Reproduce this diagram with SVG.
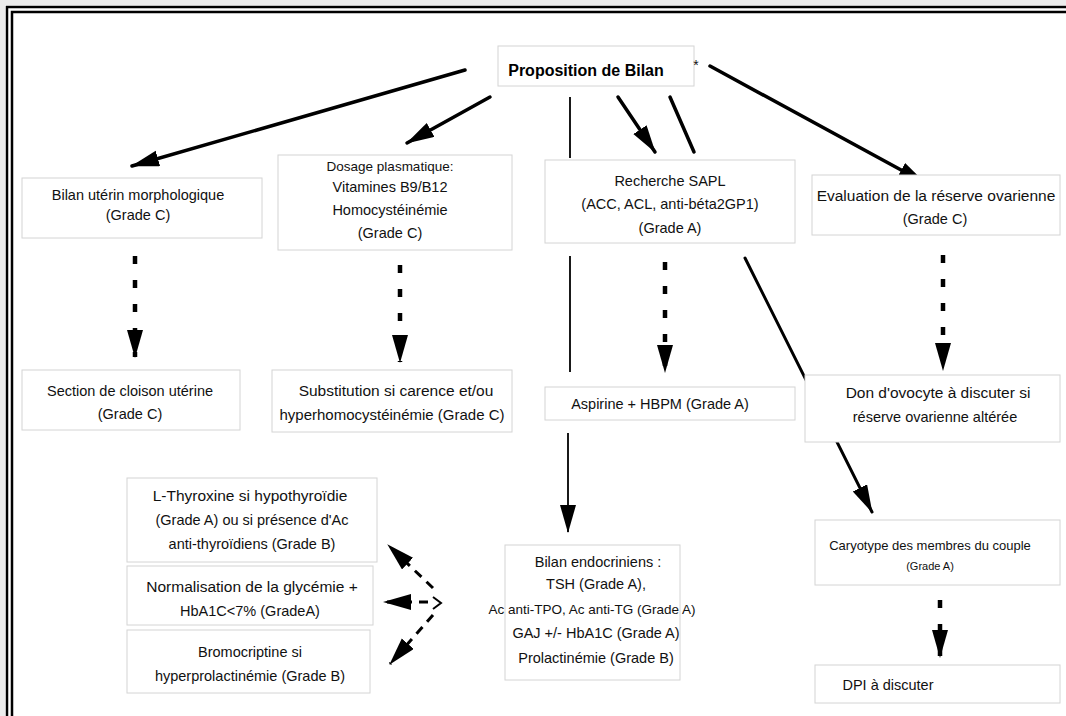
<svg xmlns="http://www.w3.org/2000/svg" width="1066" height="716" viewBox="0 0 1066 716">
<defs>
<marker id="ah" markerUnits="userSpaceOnUse" markerWidth="30" markerHeight="18" refX="27" refY="8" orient="auto">
<path d="M0,0 L28,8 L0,16 z" fill="#000"/>
</marker>
<style>
.box{fill:#fff;stroke:#d4d4d4;stroke-width:1}
.t{font-family:"Liberation Sans",Arial,sans-serif;font-size:14.5px;fill:#111;text-anchor:middle}
.s{font-size:11px}
.b{font-weight:bold;font-size:16px;fill:#000}
.solid{stroke:#000;fill:none;stroke-width:3.5;stroke-linecap:round}
.thin{stroke:#000;fill:none;stroke-width:1.8}
.dot{stroke:#000;fill:none;stroke-width:4.5;stroke-dasharray:8 16}
.dash{stroke:#000;fill:none;stroke-width:3;stroke-dasharray:9 7}
</style>
</defs>
<rect x="0" y="0" width="1066" height="716" fill="#ececec"/>
<rect x="5" y="5" width="1061" height="711" fill="#fff"/>
<path d="M7,716 V7 H1066 M12,716 V12 H1066" fill="none" stroke="#000" stroke-width="2.5"/>

<g id="connectors">
<path class="solid" d="M465,70 L132,166" marker-end="url(#ah)"/>
<path class="solid" d="M490,97 L407,143" marker-end="url(#ah)"/>
<path class="thin" d="M570,97 V158"/>
<path class="solid" d="M618,97 L655,152" marker-end="url(#ah)"/>
<path class="solid" d="M670,97 L694,152"/>
<path class="solid" d="M710,66 L925,183" marker-end="url(#ah)"/>
<path class="dot" d="M135,256 V357" marker-end="url(#ah)"/>
<path class="dot" d="M400,265 V362" marker-end="url(#ah)"/>
<path class="dot" d="M665,262 V372" marker-end="url(#ah)"/>
<path class="dot" d="M943,255 V370" marker-end="url(#ah)"/>
<path class="thin" d="M570,256 V372"/>
<path class="thin" d="M568,433 V532" marker-end="url(#ah)"/>
<path class="solid" style="stroke-width:3" d="M745,258 L872,512" marker-end="url(#ah)"/>
<path class="dot" d="M940,600 V657" marker-end="url(#ah)"/>
<path class="dash" d="M433,588 L388,545" marker-end="url(#ah)"/>
<path class="dash" d="M428,602 L384,602" marker-end="url(#ah)"/>
<path class="dash" d="M433,615 L390,664" marker-end="url(#ah)"/>
<path d="M433,597 L441,603 L433,609" fill="none" stroke="#000" stroke-width="2"/>
</g>

<g id="n-proposition">
<rect class="box" x="498" y="46" width="196" height="40" style="fill:none"/>
<text class="t b" x="586" y="76">Proposition de Bilan</text>
<text class="t" x="696" y="70" style="font-size:14px">*</text>
</g>
<g id="n-uterin">
<rect class="box" x="22" y="178" width="240" height="60"/>
<text class="t" x="138" y="200">Bilan utérin morphologique</text>
<text class="t" x="138" y="220">(Grade C)</text>
</g>
<g id="n-dosage">
<rect class="box" x="278" y="155" width="234" height="95"/>
<text class="t" x="390" y="171" style="font-size:13.5px">Dosage plasmatique:</text>
<text class="t" x="390" y="192">Vitamines B9/B12</text>
<text class="t" x="390" y="215">Homocystéinémie</text>
<text class="t" x="390" y="238">(Grade C)</text>
</g>
<g id="n-sapl">
<rect class="box" x="545" y="160" width="250" height="83"/>
<text class="t" x="670" y="186">Recherche SAPL</text>
<text class="t" x="670" y="209">(ACC, ACL, anti-béta2GP1)</text>
<text class="t" x="670" y="233">(Grade A)</text>
</g>
<g id="n-evaluation">
<rect class="box" x="812" y="175" width="248" height="60"/>
<text class="t" x="936" y="201" style="font-size:15.5px">Evaluation de la réserve ovarienne</text>
<text class="t" x="935" y="224">(Grade C)</text>
</g>
<g id="n-section">
<rect class="box" x="22" y="370" width="218" height="60"/>
<text class="t" x="130" y="396">Section de cloison utérine</text>
<text class="t" x="130" y="419">(Grade C)</text>
</g>
<g id="n-substitution">
<rect class="box" x="272" y="370" width="240" height="62"/>
<text class="t" x="396" y="396" style="font-size:15.5px">Substitution si carence et/ou</text>
<text class="t" x="392" y="420" style="font-size:15px">hyperhomocystéinémie (Grade C)</text>
</g>
<g id="n-aspirine">
<rect class="box" x="545" y="387" width="250" height="33"/>
<text class="t" x="660" y="409">Aspirine + HBPM (Grade A)</text>
</g>
<g id="n-don">
<rect class="box" x="805" y="375" width="255" height="67"/>
<text class="t" x="938" y="398" style="font-size:15.5px">Don d'ovocyte à discuter si</text>
<text class="t" x="935" y="422">réserve ovarienne altérée</text>
</g>
<g id="n-thyroxine">
<rect class="box" x="127" y="478" width="250" height="84"/>
<text class="t" x="250" y="501" style="font-size:15.5px">L-Thyroxine si hypothyroïdie</text>
<text class="t" x="252" y="525">(Grade A) ou si présence d'Ac</text>
<text class="t" x="252" y="549">anti-thyroïdiens (Grade B)</text>
</g>
<g id="n-normalisation">
<rect class="box" x="127" y="566" width="246" height="59"/>
<text class="t" x="252" y="592" style="font-size:15.5px">Normalisation de la glycémie +</text>
<text class="t" x="250" y="616">HbA1C&lt;7% (GradeA)</text>
</g>
<g id="n-bromocriptine">
<rect class="box" x="127" y="630" width="243" height="63"/>
<text class="t" x="250" y="657">Bromocriptine si</text>
<text class="t" x="250" y="681">hyperprolactinémie (Grade B)</text>
</g>
<g id="n-endocrinien">
<rect class="box" x="505" y="545" width="175" height="135"/>
<text class="t" x="598" y="567">Bilan endocriniens :</text>
<text class="t" x="596" y="589">TSH (Grade A),</text>
<text class="t" x="592" y="614" style="font-size:13.5px">Ac anti-TPO, Ac anti-TG (Grade A)</text>
<text class="t" x="596" y="638">GAJ +/- HbA1C (Grade A)</text>
<text class="t" x="596" y="663">Prolactinémie (Grade B)</text>
</g>
<g id="n-caryotype">
<rect class="box" x="815" y="520" width="245" height="65"/>
<text class="t" x="930" y="550" style="font-size:13px">Caryotype des membres du couple</text>
<text class="t s" x="930" y="570">(Grade A)</text>
</g>
<g id="n-dpi">
<rect class="box" x="815" y="665" width="245" height="38"/>
<text class="t" x="888" y="690">DPI à discuter</text>
</g>
</svg>
